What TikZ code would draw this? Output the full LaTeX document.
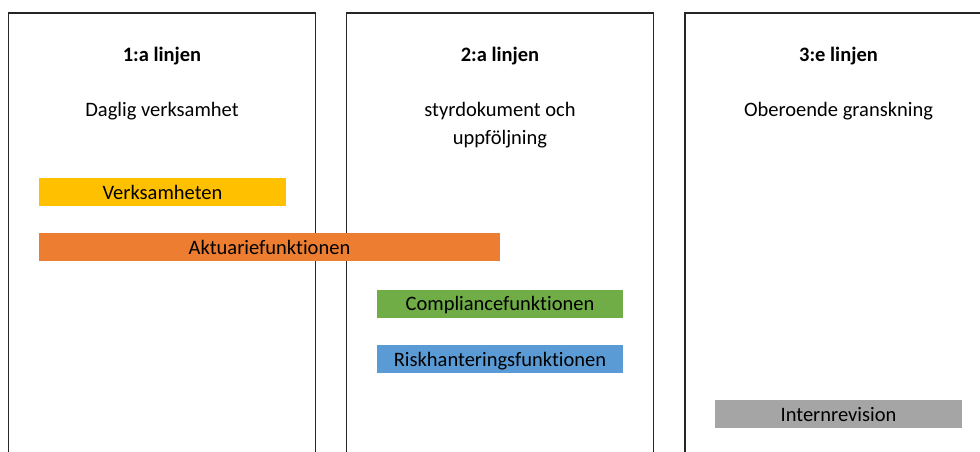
\documentclass[tikz,border=0pt]{standalone}
\usepackage{fontspec}
\setmainfont{Carlito}[Ligatures=NoCommon]
\usetikzlibrary{positioning}

\definecolor{barYellow}{HTML}{FFC000}
\definecolor{barOrange}{HTML}{ED7D31}
\definecolor{barGreen}{HTML}{70AD47}
\definecolor{barBlue}{HTML}{5B9BD5}
\definecolor{barGray}{HTML}{A5A5A5}

\begin{document}
\begin{tikzpicture}[
					x=1pt, y=-1pt,
					linebox/.style={
						draw=black!85,
						rectangle,
						line width=1.6pt,
						minimum width=307pt,
						minimum height=600pt,
						anchor=north
					},
					headtext/.style={
						align=center,
						inner sep=0pt,
						font=\fontsize{20.5}{28}\selectfont
					},
					funcbar/.style={
						rectangle,
						inner sep=0pt,
						minimum height=28pt,
						text height=14pt,
						text depth=0pt,
						text=black,
						font=\fontsize{20.5}{24}\selectfont
					}
					]
					
					\useasboundingbox (0,0) rectangle (980,452);
					\clip (0,0) rectangle (980,452);
					
					% The three lines
					\node (col1) [linebox] at (162, 12) {};
					\node (col2) [linebox] at (500, 12) {};
					\node (col3) [linebox] at (838.5, 12) {};
					
					% Headings
					\node (head1) [headtext, font=\fontsize{20.5}{28}\selectfont\bfseries] at (162, 56) {1:a linjen};
					\node (head2) [headtext, font=\fontsize{20.5}{28}\selectfont\bfseries] at (500, 56) {2:a linjen};
					\node (head3) [headtext, font=\fontsize{20.5}{28}\selectfont\bfseries] at (838.5, 56) {3:e linjen};
					
					\node (desc1) [headtext] at (162, 111) {Daglig verksamhet};
					\node (desc2) [headtext] at (500, 125) {styrdokument och \\ uppföljning};
					\node (desc3) [headtext] at (838.5, 111) {Oberoende granskning};
					
					% Functions
					\node (verks) [funcbar, fill=barYellow, minimum width=247pt] at (162.5, 192) {Verksamheten};
					\node (aktuarie) [funcbar, fill=barOrange, minimum width=461pt] at (269.5, 247) {Aktuariefunktionen};
					\node (compliance) [funcbar, fill=barGreen, minimum width=246pt] at (500, 303.5) {Compliancefunktionen};
					\node (risk) [funcbar, fill=barBlue, minimum width=246pt] at (500, 359) {Riskhanteringsfunktionen};
					\node (internrev) [funcbar, fill=barGray, minimum width=247pt] at (838.5, 414) {Internrevision};
					
				\end{tikzpicture}
\end{document}
